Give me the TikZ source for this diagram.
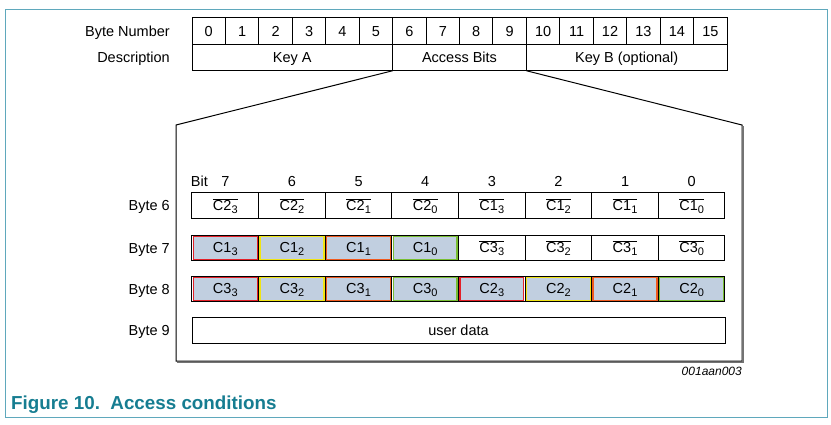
\documentclass[tikz,border=0pt]{standalone}
\usepackage{fontspec}
\setmainfont{Liberation Sans}
\usetikzlibrary{positioning}

\definecolor{framecol}{RGB}{95,168,188}
\definecolor{captcol}{RGB}{22,125,145}
\definecolor{cellfill}{RGB}{193,207,224}
\definecolor{bitred}{RGB}{228,32,40}
\definecolor{bityellow}{RGB}{240,228,20}
\definecolor{bitorange}{RGB}{240,90,30}
\definecolor{bitgreen}{RGB}{120,190,50}

\newcommand{\subidx}[1]{\raisebox{-0.4ex}{\fontsize{11}{12}\selectfont #1}}
\newcommand{\Cinv}[2]{$\overline{\mbox{C#1\subidx{#2}}}$}
\newcommand{\Cbit}[2]{C#1\subidx{#2}}

\begin{document}
\begin{tikzpicture}[x=1pt, y=-1pt,
            txt/.style={font=\fontsize{14.5}{17}\selectfont, text height=10.4pt, text depth=0pt},
            lbl/.style={txt, inner sep=0pt},
            numcell/.style={txt, draw, line width=1pt, rectangle, inner sep=0pt, outer sep=0pt,
            minimum width=33.44pt, minimum height=26.5pt},
            desccell/.style={numcell, minimum height=26.5pt},
            bitcell/.style={txt, draw, line width=1pt, rectangle, inner sep=0pt, outer sep=0pt,
            text height=11.5pt, text depth=2pt, minimum width=66.625pt, minimum height=25.5pt},
            hilite/.style={bitcell, draw=#1, fill=cellfill, line width=1.4pt,
            minimum width=63.8pt, minimum height=22.7pt}]
        \useasboundingbox (0,0) rectangle (831,425);
        \draw[framecol, line width=1pt] (5.5,10) rectangle (827.5,417);

        % byte map of the block
        \foreach \n in {0,...,15}
            \node[numcell] (n\n) at ({192+33.44*\n+16.72},31) {\n};
        \node[desccell, minimum width=200.64pt, anchor=north west] (keya) at (n0.south west) {Key A};
        \node[desccell, minimum width=133.76pt] (access) [right=0pt of keya] {Access Bits};
        \node[desccell, minimum width=200.64pt] (keyb) [right=0pt of access] {Key B (optional)};
        \node[lbl] (bytenum) [left=22pt of n0] {Byte Number};
        \node[lbl] (descr) [left=22pt of keya] {Description};

        % zoomed frame
        \coordinate (tl) at (176,125);
        \coordinate (bl) at (176,361);
        \coordinate (br) at (742,361);
        \coordinate (tr) at (742,125);
        \draw[line width=1pt] (access.south west) -- (tl) -- (bl) -- (br) -- (tr) -- (access.south east);
        \draw[black!55, line width=1.2pt] ([shift={(1,1.2)}]bl) -- ([shift={(1,1.2)}]br) -- ([shift={(1,1)}]tr);

        \foreach \i in {0,...,7}
            \node[lbl] (bit\i) at ({225.3+66.625*(7-\i)},181) {\i};
        \node[lbl] (bitword) [left=13pt of bit7] {Bit};

        % byte 6
        \foreach \i/\t in {7/{\Cinv{2}{3}},6/{\Cinv{2}{2}},5/{\Cinv{2}{1}},4/{\Cinv{2}{0}},
                3/{\Cinv{1}{3}},2/{\Cinv{1}{2}},1/{\Cinv{1}{1}},0/{\Cinv{1}{0}}}
            \node[bitcell] (b6c\i) at ({225.3+66.625*(7-\i)},205.5) {\t};
        % byte 7
        \foreach \i/\t in {7/{},6/{},5/{},4/{},
                3/{\Cinv{3}{3}},2/{\Cinv{3}{2}},1/{\Cinv{3}{1}},0/{\Cinv{3}{0}}}
            \node[bitcell] (b7c\i) at ({225.3+66.625*(7-\i)},248) {\t};
        \foreach \i/\c/\k in {7/bitred/3,6/bityellow/2,5/bitorange/1,4/bitgreen/0}
            \node[hilite=\c] (h7c\i) at (b7c\i) {\Cbit{1}{\k}};
        % byte 8
        \foreach \i in {0,...,7}
            \node[bitcell] (b8c\i) at ({225.3+66.625*(7-\i)},289) {};
        \foreach \i/\c/\k in {7/bitred/3,6/bityellow/2,5/bitorange/1,4/bitgreen/0}
            \node[hilite=\c] (h8c\i) at (b8c\i) {\Cbit{3}{\k}};
        \foreach \i/\c/\k in {3/bitred/3,2/bityellow/2,1/bitorange/1,0/bitgreen/0}
            \node[hilite=\c] (h8c\i) at (b8c\i) {\Cbit{2}{\k}};
        % byte 9
        \node[bitcell, minimum width=533pt, minimum height=26.5pt] (b9) at (458.5,330.5) {user data};

        \node[lbl] (byte6) [left=22pt of b6c7] {Byte 6};
        \node[lbl] (byte7) [left=22pt of b7c7] {Byte 7};
        \node[lbl] (byte8) [left=22pt of b8c7] {Byte 8};
        \node[lbl] (byte9) [left=22pt of b9] {Byte 9};

        \node[inner sep=0pt, font=\itshape\fontsize{12}{14}\selectfont] (figid) [below left=6pt and 0pt of br] {001aan003};
        \node[anchor=west, inner sep=0pt, text=captcol, font=\bfseries\fontsize{18.8}{21}\selectfont] (caption) at (11,405) {Figure 10.\ \ Access conditions};
    \end{tikzpicture}
\end{document}
